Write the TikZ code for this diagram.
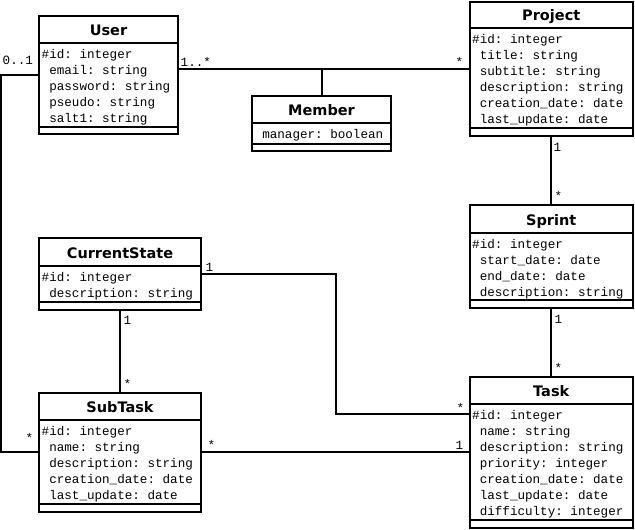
\documentclass[tikz,border=0pt]{standalone}
\usepackage{fontspec}
\setmonofont{Liberation Mono}
\newfontfamily\titlefont{DejaVu Sans}
\newcommand\ind{\phantom{\#}}
\newcommand\umlattrs[4]{%
  \foreach \t [count=\i] in {#4} {
    \node[attr] (#1-\i) at (#2, {#3+16*(\i-1)}) {\t};
  }}
\begin{document}
\begin{tikzpicture}[x=1pt,y=-1pt,
  classbox/.style={draw, line width=2pt, inner sep=0pt, outer sep=0pt, anchor=north west, rectangle},
  ttl/.style={font=\titlefont\bfseries\fontsize{14.5}{16}\selectfont, anchor=base, inner sep=0pt},
  attr/.style={font=\ttfamily\fontsize{12.6}{16}\selectfont, anchor=base west, inner sep=0pt},
  mult/.style={font=\ttfamily\fontsize{12.6}{16}\selectfont, anchor=base west, inner sep=0pt},
  conn/.style={line width=2pt},
  sep/.style={line width=2pt}]
\useasboundingbox[fill=white] (0,0) rectangle (635,530);

% ---------- User
\node[classbox, minimum width=139pt, minimum height=118pt] (user) at (39,16) {};
\draw[sep] (user.west |- 0,43) -- (user.east |- 0,43);
\draw[sep] (user.west |- 0,127) -- (user.east |- 0,127);
\node[ttl] (user-t) at (user.center |- 0,35) {User};
\umlattrs{user}{41.5}{58}{\#id: integer,\ind email: string,\ind password: string,\ind pseudo: string,\ind salt1: string}

% ---------- Member
\node[classbox, minimum width=139pt, minimum height=55pt] (member) at (252,96) {};
\draw[sep] (member.west |- 0,123) -- (member.east |- 0,123);
\draw[sep] (member.west |- 0,144) -- (member.east |- 0,144);
\node[ttl] (member-t) at (member.center |- 0,115) {Member};
\umlattrs{member}{254.5}{138}{\ind manager: boolean}

% ---------- Project
\node[classbox, minimum width=163.5pt, minimum height=134pt] (project) at (469.5,2) {};
\draw[sep] (project.west |- 0,28) -- (project.east |- 0,28);
\draw[sep] (project.west |- 0,128) -- (project.east |- 0,128);
\node[ttl] (project-t) at (project.center |- 0,20) {Project};
\umlattrs{project}{472}{43.5}{\#id: integer,\ind title: string,\ind subtitle: string,\ind description: string,\ind creation\_date: date,\ind last\_update: date}

% ---------- Sprint
\node[classbox, minimum width=163.5pt, minimum height=103pt] (sprint) at (469.5,205) {};
\draw[sep] (sprint.west |- 0,233) -- (sprint.east |- 0,233);
\draw[sep] (sprint.west |- 0,300) -- (sprint.east |- 0,300);
\node[ttl] (sprint-t) at (sprint.center |- 0,225) {Sprint};
\umlattrs{sprint}{472}{248.5}{\#id: integer,\ind start\_date: date,\ind end\_date: date,\ind description: string}

% ---------- Task
\node[classbox, minimum width=163.5pt, minimum height=151pt] (task) at (469.5,377) {};
\draw[sep] (task.west |- 0,404) -- (task.east |- 0,404);
\draw[sep] (task.west |- 0,520) -- (task.east |- 0,520);
\node[ttl] (task-t) at (task.center |- 0,396) {Task};
\umlattrs{task}{472}{419.5}{\#id: integer,\ind name: string,\ind description: string,\ind priority: integer,\ind creation\_date: date,\ind last\_update: date,\ind difficulty: integer}

% ---------- CurrentState
\node[classbox, minimum width=162pt, minimum height=72pt] (cstate) at (39,238) {};
\draw[sep] (cstate.west |- 0,266) -- (cstate.east |- 0,266);
\draw[sep] (cstate.west |- 0,302) -- (cstate.east |- 0,302);
\node[ttl] (cstate-t) at (cstate.center |- 0,258) {CurrentState};
\umlattrs{cstate}{41.5}{281.5}{\#id: integer,\ind description: string}

% ---------- SubTask
\node[classbox, minimum width=162pt, minimum height=119pt] (subtask) at (39,393) {};
\draw[sep] (subtask.west |- 0,420) -- (subtask.east |- 0,420);
\draw[sep] (subtask.west |- 0,504) -- (subtask.east |- 0,504);
\node[ttl] (subtask-t) at (subtask.center |- 0,412) {SubTask};
\umlattrs{subtask}{41.5}{435.5}{\#id: integer,\ind name: string,\ind description: string,\ind creation\_date: date,\ind last\_update: date}

% ---------- connectors
\coordinate (umj) at (member.north |- 0,69);
\draw[conn] (user.east |- umj) -- (project.west |- umj);
\draw[conn] (member.north) -- (umj);
\coordinate (usa) at (1,75);
\coordinate (usb) at (1,451.5);
\draw[conn] (user.west |- usa) -- (usa) -- (usb) -- (subtask.west |- usb);
\draw[conn] (project.south) -- (sprint.north);
\draw[conn] (sprint.south) -- (task.north);
\draw[conn] (cstate.south) -- (subtask.north);
\coordinate (cta) at (336,274);
\coordinate (ctb) at (336,414);
\draw[conn] (cstate.east |- cta) -- (cta) -- (ctb) -- (task.west |- ctb);
\draw[conn] (subtask.east |- usb) -- (task.west |- usb);

% ---------- multiplicities
\node[mult] (m1) at (2.5,64) {0..1};
\node[mult] (m2) at (180.5,66) {1..*};
\node[mult] (m3) at (455.5,66.5) {*};
\node[mult] (m4) at (553.5,151) {1};
\node[mult] (m5) at (554.5,200.5) {*};
\node[mult] (m6) at (554.5,323) {1};
\node[mult] (m7) at (554.5,372.5) {*};
\node[mult] (m8) at (205.5,271) {1};
\node[mult] (m9) at (456.5,412.5) {*};
\node[mult] (m10) at (123.5,324) {1};
\node[mult] (m11) at (123.5,388.5) {*};
\node[mult] (m12) at (25.5,442.5) {*};
\node[mult] (m13) at (207.5,449.5) {*};
\node[mult] (m14) at (455.5,449) {1};
\end{tikzpicture}
\end{document}
